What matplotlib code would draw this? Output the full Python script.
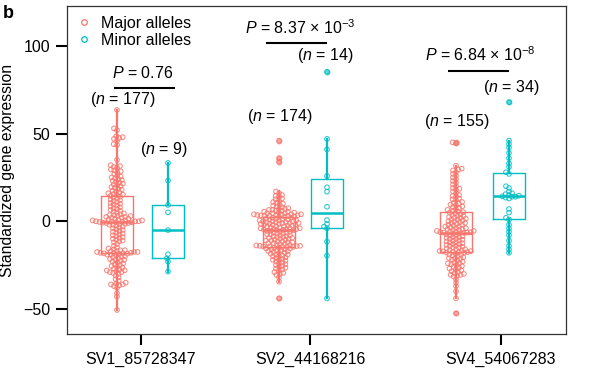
import numpy as np
import matplotlib
matplotlib.use('Agg')
import matplotlib.pyplot as plt
from matplotlib.lines import Line2D

plt.rcParams['font.family'] = ['Liberation Sans', 'DejaVu Sans']
plt.rcParams['mathtext.fontset'] = 'custom'
plt.rcParams['mathtext.rm'] = 'Liberation Sans'
plt.rcParams['mathtext.it'] = 'Liberation Sans:italic'

# --- data ---------------------------------------------------------------
snps = ['SV1_85728347', 'SV2_44168216', 'SV4_54067283']

sv1_major = [63.5, 53, 52, 48.5, 48, 47.5, 47, 46, 44, 43.5, 35, 32, 31.5, 31, 30.5, 29.5, 29, 28.5,
             28, 27, 26, 25.5, 25, 24.5, 24, 23.5, 23, 22.5, 22, 21.5, 21, 20.5, 20, 19.5, 19, 18.5,
             18, 17.5, 17, 16.5, 16, 15.5, 15.2, 15,
             14.5, 14, 13.5, 13, 12.5, 12, 11.5, 11, 10.5, 10, 9.5, 9, 8.5, 8, 7.5, 7, 6.5, 6, 5.5, 5,
             4.5, 4, 3.5, 3.5, 3, 3, 2.5, 2.5, 2, 2, 1.5, 1.5, 1, 1, 0.5, 0.5, 0.5, 0, 0, 0,
             -0.2, -0.3, -0.4, -0.5,
             -0.6, -0.8, -1, -1, -1.5, -1.5, -2, -2, -2.5, -3, -3.5, -4, -4.5, -5, -5.5, -6, -6.5, -7,
             -7.5, -8, -8.5, -9, -9.5, -10, -10.5, -11, -11.5, -12, -13, -14, -15, -15.5, -16, -16.5,
             -16.5, -17, -17, -17.5, -17.5, -17.5, -18, -18, -18, -18.2,
             -18.3, -18.5, -18.5, -19, -19, -19.5, -20, -20, -20.5, -21, -21.5, -22, -22, -22.5, -23,
             -23.5, -24, -24.5, -25, -25.5, -26, -26.5, -27, -27.5, -28, -28, -28.5, -29, -29, -29.5,
             -30, -31, -32, -33, -34, -35, -35.5, -36, -36, -36.5, -37, -38, -41, -43, -50.6]
sv1_minor = [33.3, 23.2, 9.3, 5.1, -5, -18.8, -21.1, -23, -28.7]

sv2_major = [46, 36, 34, 17, 16, 15, 14.5, 14, 13, 12.5, 12, 11, 10.5, 10, 9.5, 9, 8.5, 8, 7.5, 7,
             7, 6.5, 6.5, 6, 6, 5.5, 5.5, 5, 5, 4.5, 4.5, 4.5, 4, 4, 4, 3.8, 3.6, 3.5, 3.4, 3.3,
             3.2, 3.1, 3.0,
             2.8, 2.5, 2.5, 2, 2, 1.5, 1.5, 1, 1, 1, 0.5, 0.5, 0.5, 0, 0, 0, -0.5, -0.5, -0.5, -1,
             -1, -1, -1.5, -1.5, -1.5, -2, -2, -2, -2.5, -2.5, -3, -3, -3, -3.5, -3.5, -4, -4, -4,
             -4.5, -4.5, -4.5, -4.8, -4.9, -5,
             -5.2, -5.5, -5.5, -6, -6, -6.5, -6.5, -7, -7, -7.5, -7.5, -8, -8, -8.5, -8.5, -9, -9,
             -9.5, -9.5, -10, -10, -10.5, -10.5, -11, -11, -11.5, -11.5, -12, -12, -12.5, -12.5,
             -13, -13, -13.5, -13.5, -13.8, -14, -14, -14.2, -14.3, -14.4, -14.5, -14.5,
             -14.6, -15, -15, -15.5, -15.5, -16, -16, -16.5, -16.5, -17, -17, -17.5, -18, -18, -18.5,
             -19, -19, -19.5, -20, -20, -20.5, -21, -21.5, -22, -22, -22.5, -23, -23.5, -24, -24.5,
             -25, -25.5, -26, -26.5, -27, -27.5, -28, -29, -29.5, -30, -30.6, -32, -34.5, -44]
sv2_minor = [85.3, 47, 41, 25.8, 19.4, 16.9, 8.3, 0.7, -1.5, -3, -4, -11.6, -19.6, -44]

sv4_major = [45, 44.5, 31.7, 30, 29.5, 29, 28, 27, 26, 25, 24, 23, 22, 21, 20, 19, 18.5, 18, 17, 16,
             15, 14.5, 14, 13, 12.5, 12, 11, 10.5, 10, 9.5, 9, 8.5, 8, 7.5, 7, 6.5, 6, 5.5, 5.2,
             5, 4.5, 4, 3.5, 3, 3, 2.5, 2, 2, 1.5, 1, 1, 0.5, 0, 0, -0.5, -1, -1, -1.5, -2, -2,
             -2.5, -3, -3, -3.5, -4, -4, -4.5, -4.5, -5, -5, -5.5, -5.5, -6, -6, -6.2, -6.3, -6.4,
             -6.5,
             -6.6, -7, -7, -7.5, -8, -8, -8.5, -9, -9, -9.5, -10, -10, -10.5, -11, -11, -11.5, -12,
             -12, -12.5, -13, -13, -13.5, -14, -14, -14.5, -15, -15, -15.5, -16, -16, -16.5, -16.5,
             -17, -17, -17.2, -17.4, -17.5, -17.6,
             -17.8, -18, -18.5, -19, -19, -19.5, -20, -20.5, -21, -21, -21.5, -22, -22.5, -23, -23.5,
             -24, -24, -24.5, -25, -25.5, -26, -26.5, -27, -27.5, -28, -28.5, -29, -29.5, -30, -30.5,
             -30.6, -31, -31.5, -33, -35, -37, -40, -44, -52.5]
sv4_minor = [68, 46, 44, 42, 39, 36, 33, 31, 28, 27, 20, 19, 17, 16, 15.5, 15, 14.6, 14.2, 14, 14,
             13.5, 13, 7, 5, 2, 1, -2, -4, -6, -8, -11, -14, -16, -18]

major = [sv1_major, sv2_major, sv4_major]
minor = [sv1_minor, sv2_minor, sv4_minor]

p_text = [r'$P$ = 0.76', r'$P$ = 8.37 × 10$^{-3}$', r'$P$ = 6.84 × 10$^{-8}$']

red = '#F8766D'
teal = '#00BFC4'

# x axis is laid out in pixel-like units across the panel
major_x = [50, 212, 389]
minor_x = [101, 260, 442]
tick_x = [74, 243, 434]
ylim = (-64.3, 122.8)
ax_h_px = 328


def swarm(vals, center, ypx, d=3.5):
    """Simple beeswarm: shift points sideways so circles do not overlap."""
    vals = np.asarray(vals, float)
    xs = np.zeros(len(vals))
    placed = []
    for i in np.argsort(vals, kind='stable'):
        y = vals[i] * ypx
        near = [(px, py) for px, py in placed if abs(py - y) < d]
        cands = [0.0]
        for px, py in near:
            dx = np.sqrt(d * d - (py - y) ** 2)
            cands += [px - dx, px + dx]
        cands.sort(key=abs)
        for c in cands:
            if all((c - px) ** 2 + (y - py) ** 2 >= d * d - 1e-6 for px, py in near):
                xs[i] = c
                break
        placed.append((xs[i], y))
    return center + xs


fig = plt.figure(figsize=(5.96, 3.74), dpi=100)
ax = fig.add_axes([67 / 596, 40 / 374, 499 / 596, 328 / 374])
ax.set_xlim(0, 499)
ax.set_ylim(*ylim)
ypx = ax_h_px / (ylim[1] - ylim[0])

for data, pos, col in [(major, major_x, red), (minor, minor_x, teal)]:
    ax.boxplot(data, positions=pos, widths=32, whis=1.5, showcaps=False, manage_ticks=False,
               boxprops=dict(color=col, lw=1.0),
               whiskerprops=dict(color=col, lw=1.6),
               medianprops=dict(color=col, lw=1.8),
               flierprops=dict(marker='o', markerfacecolor=col, markeredgecolor=col,
                               markersize=3.3, alpha=0.6),
               zorder=2)
    for vals, x0 in zip(data, pos):
        xs = swarm(vals, x0, ypx)
        ax.scatter(xs, vals, s=11, facecolors='none', edgecolors=col, linewidths=0.75,
                   alpha=0.85, zorder=3)

# significance bars and counts
bars = [(47, 108, 76.2), (199, 260, 101.9), (381, 442, 85.9)]
p_pos = [(76, 81.6), (233.5, 106.9), (413, 91.6)]
for (x1, x2, yb), (xt, yt), txt in zip(bars, p_pos, p_text):
    ax.plot([x1, x2], [yb, yb], color='black', lw=1.5, solid_capstyle='butt', zorder=4)
    ax.text(xt, yt, txt, ha='center', va='baseline', fontsize=11.5)

n_pos = [(56, 66.7), (213, 57.4), (390, 54.5), (96.5, 38.4), (258, 92.0), (444, 73.9)]
counts = [len(v) for v in major] + [len(v) for v in minor]
for (xt, yt), n in zip(n_pos, counts):
    ax.text(xt, yt, '($n$ = %d)' % n, ha='center', va='baseline', fontsize=11.5)

ax.set_xticks(tick_x)
ax.set_xticklabels(snps)
ax.set_yticks([-50, 0, 50, 100])
ax.set_yticklabels(['\u221250', '0', '50', '100'])
ax.tick_params(axis='both', length=8, width=1.5, labelsize=11.5, color='black')
ax.tick_params(axis='x', pad=5)
ax.tick_params(axis='y', pad=4)
for s in ax.spines.values():
    s.set_linewidth(0.9)
    s.set_color('#333333')
ax.set_ylabel('Standardized gene expression', fontsize=11.3, labelpad=6)

handles = [Line2D([], [], ls='none', marker='o', markersize=4, markerfacecolor='none',
                  markeredgecolor=red, markeredgewidth=0.9, label='Major alleles'),
           Line2D([], [], ls='none', marker='o', markersize=4, markerfacecolor='none',
                  markeredgecolor=teal, markeredgewidth=0.9, label='Minor alleles')]
ax.legend(handles=handles, loc='upper left', bbox_to_anchor=(-0.005, 1.0), frameon=False,
          fontsize=11.5, handlelength=1.2, handletextpad=0.5, labelspacing=0.15, borderpad=0.1)

fig.text(3 / 596, 1 - 18 / 374, 'b', fontsize=13, fontweight='bold', va='baseline')

fig.savefig('out.png', dpi=100)
